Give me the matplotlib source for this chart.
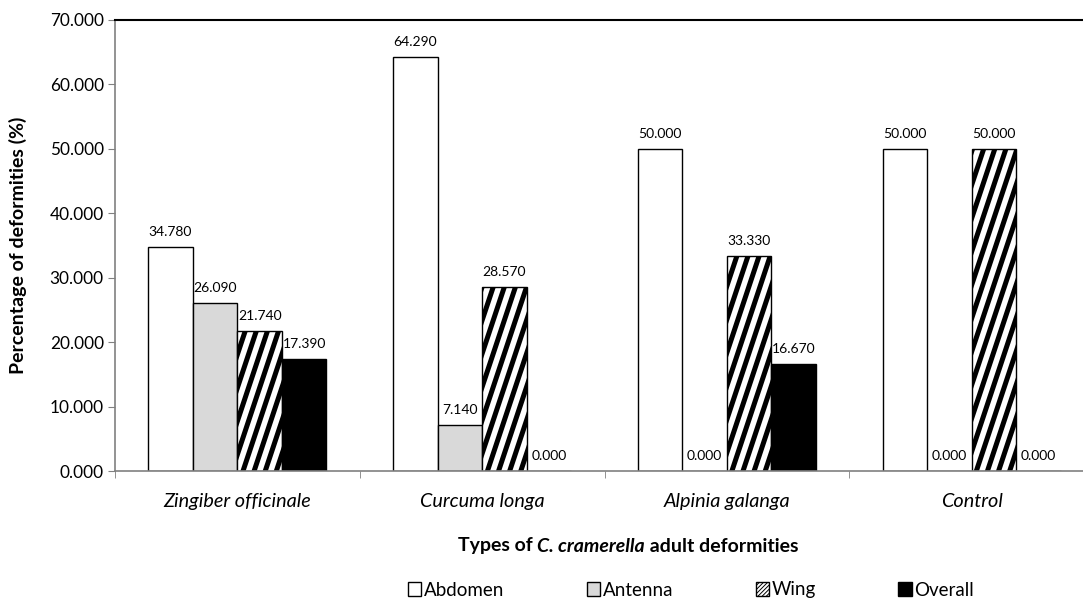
import warnings
warnings.filterwarnings("ignore")
import numpy as np
import matplotlib
matplotlib.use("Agg")
import matplotlib.pyplot as plt
import matplotlib.hatch as mhatch
from matplotlib.path import Path
from matplotlib.patches import Patch
from matplotlib.offsetbox import TextArea, HPacker, AnchoredOffsetbox

categories = ["Zingiber officinale", "Curcuma longa", "Alpinia galanga", "Control"]
series_names = ["Abdomen", "Antenna", "Wing", "Overall"]
abdomen = [34.780, 64.290, 50.000, 50.000]
antenna = [26.090, 7.140, 0.000, 0.000]
wing = [21.740, 28.570, 33.330, 50.000]
overall = [17.390, 0.000, 16.670, 0.000]
yticks = [0, 10, 20, 30, 40, 50, 60, 70]


class SteepHatch(mhatch.HatchPatternBase):
    """Steep diagonal stripes (slope 3) registered under the character 'z'."""
    def __init__(self, hatch, density):
        self.N = 9 if 'z' in hatch else 0
        self.idx = list(range(-4, 11)) if self.N else []
        self.num_vertices = 2 * len(self.idx)

    def set_vertices_and_codes(self, vertices, codes):
        k = 0
        for i in self.idx:
            for y in (-0.1, 1.1):
                vertices[k] = ((i + 3 * y) / self.N, y)
                codes[k] = Path.MOVETO if y < 0 else Path.LINETO
                k += 1

    get_vertices_and_codes = set_vertices_and_codes


mhatch._hatch_types.append(SteepHatch)

plt.rcParams['font.family'] = ['Lato', 'DejaVu Sans']
plt.rcParams['hatch.linewidth'] = 3.6
plt.rcParams['hatch.color'] = 'black'

fig = plt.figure(figsize=(10.83, 6.03), dpi=100)
ax = fig.add_axes([115 / 1083, (603 - 471) / 603, (1094 - 115) / 1083, (471 - 20) / 603])

x = np.arange(len(categories))
bw = 0.182
styles = [
    dict(facecolor='white', edgecolor='black', hatch=None),
    dict(facecolor='#d9d9d9', edgecolor='black', hatch=None),
    dict(facecolor='white', edgecolor='black', hatch='z'),
    dict(facecolor='black', edgecolor='black', hatch=None),
]
data = [abdomen, antenna, wing, overall]
for j, (vals, st) in enumerate(zip(data, styles)):
    pos = x + (j - 1.5) * bw
    bars = ax.bar(pos, vals, width=bw, linewidth=1.0, zorder=2, **st)
    for b, v in zip(bars, vals):
        ax.annotate(f"{v:.3f}", (b.get_x() + b.get_width() / 2, v),
                    xytext=(0, 6.5), textcoords='offset points',
                    ha='center', va='bottom', fontsize=10, color='black')

ax.set_xlim(-0.5, len(categories) - 0.5)
ax.set_ylim(0, 70)
ax.set_yticks(yticks)
ax.set_yticklabels([f"{v:.3f}" for v in yticks], fontsize=12.4)
ax.set_xticks(x)
ax.set_xticklabels(categories, fontsize=14.3, style='italic')
ax.set_xticks(np.arange(-0.5, len(categories)), minor=True)
ax.tick_params(axis='x', which='major', length=0, pad=16)
ax.tick_params(axis='x', which='minor', length=5, direction='out', color='#808080')
ax.tick_params(axis='y', length=5, direction='out', color='#808080', pad=3)

for s in ['left', 'bottom']:
    ax.spines[s].set_color('#808080')
    ax.spines[s].set_linewidth(1.2)
ax.spines['top'].set_color('black')
ax.spines['top'].set_linewidth(1.5)
ax.spines['right'].set_visible(False)

fig.text(18 / 1083, 1 - 245 / 603, "Percentage of deformities (%)", rotation=90,
         ha='center', va='center', fontsize=14, fontweight='bold')

parts = [TextArea("Types of ", textprops=dict(fontsize=14, fontweight='bold')),
         TextArea("C. cramerella", textprops=dict(fontsize=14, fontweight='bold', style='italic')),
         TextArea(" adult deformities", textprops=dict(fontsize=14, fontweight='bold'))]
pack = HPacker(children=parts, align='baseline', pad=0, sep=0)
ab = AnchoredOffsetbox(loc='center', child=pack, frameon=False,
                       bbox_to_anchor=(628 / 1083, 1 - 546 / 603),
                       bbox_transform=fig.transFigure, borderpad=0, pad=0)
fig.add_artist(ab)

with plt.rc_context({'hatch.linewidth': 0.7}):
    handles = []
    for st in styles:
        h = Patch(facecolor=st['facecolor'], edgecolor='black', linewidth=1.0,
                  hatch='////////' if st['hatch'] else None)
        if st['hatch'] and hasattr(h, 'set_hatch_linewidth'):
            h.set_hatch_linewidth(0.7)
        handles.append(h)
    leg = fig.legend(handles, series_names, loc='center', ncol=4, frameon=False,
                     bbox_to_anchor=(691 / 1083, 1 - 590 / 603), fontsize=13.5,
                     handlelength=0.7, handleheight=0.7, handletextpad=0.15,
                     columnspacing=4.4)
    for p in leg.get_patches():
        if p.get_hatch() and hasattr(p, 'set_hatch_linewidth'):
            p.set_hatch_linewidth(0.7)

fig.savefig("out.png", dpi=100)
